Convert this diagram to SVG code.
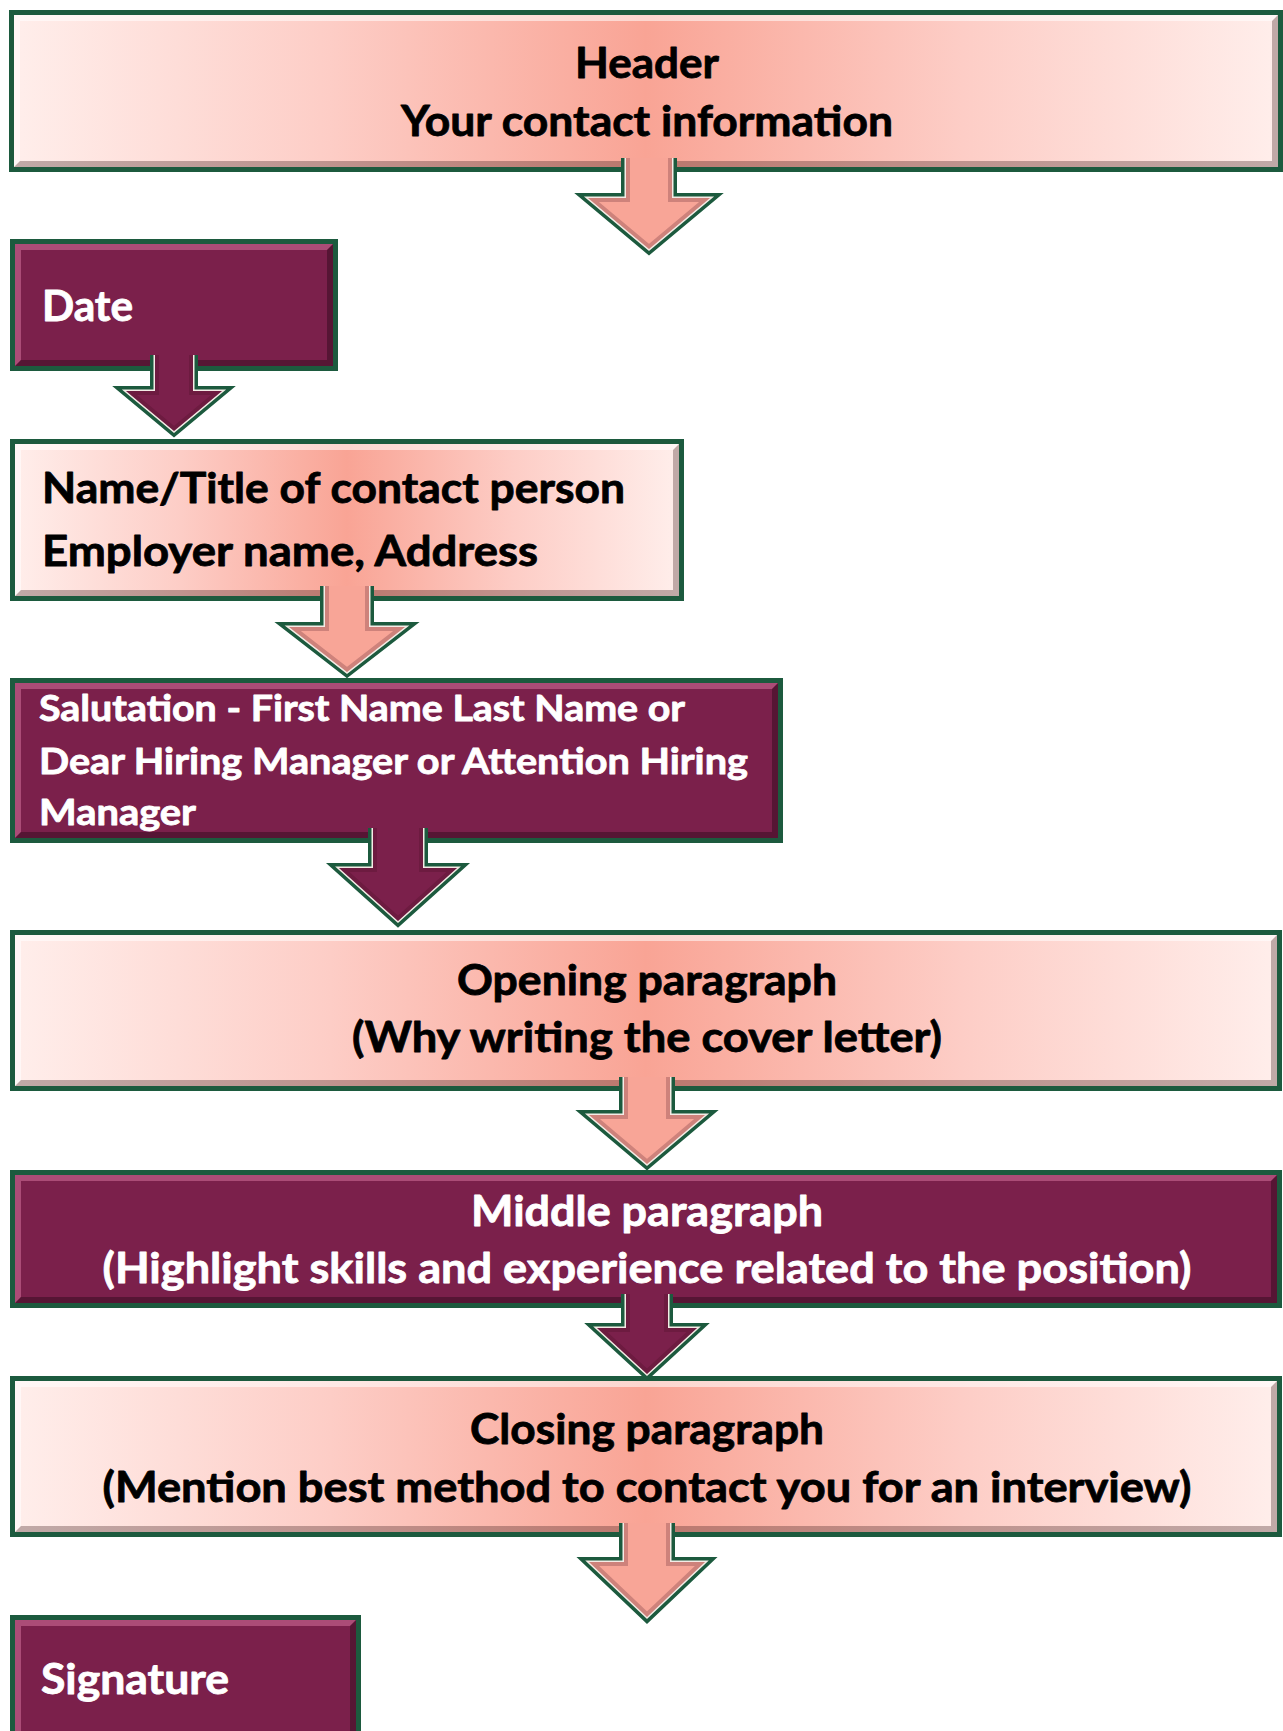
<svg xmlns="http://www.w3.org/2000/svg" xmlns:xlink="http://www.w3.org/1999/xlink" width="1283" height="1731" viewBox="0 0 1283 1731">
<style>
.border{fill:#1c5a3e}
.pinkfill{fill:url(#pinkGrad)}
.maroonfill{fill:#7b204b}
.hl{fill:#ffffff;fill-opacity:0.55}
.hlm{fill:#c0608a;fill-opacity:0.7}
.sh{fill:#3a1a1a;fill-opacity:0.32}
.shm{fill:#2a0818;fill-opacity:0.45}
.t{font-family:Lato,"Liberation Sans",sans-serif;font-weight:bold;stroke-width:0.8;stroke-linejoin:round}
.tb{fill:#000000;stroke:#000000}
.tw{fill:#ffffff;stroke:#ffffff}
.ao{fill:none;stroke:#1c5a3e;stroke-width:10;stroke-linejoin:miter;stroke-miterlimit:10}
.aw{fill:none;stroke:#f4ece6;stroke-width:3;stroke-linejoin:miter;stroke-miterlimit:10}
.afp{fill:#f8a597;stroke:none}
.afm{fill:#7b204b;stroke:none}
.bev{fill:none;stroke:#3a0a1a;stroke-opacity:0.22;stroke-width:8;stroke-linejoin:miter}
</style>
<defs>
<linearGradient id="pinkGrad" x1="0" y1="0" x2="1" y2="0">
<stop offset="0" stop-color="#ffeeeb"/>
<stop offset="0.25" stop-color="#fdcdc6"/>
<stop offset="0.5" stop-color="#f9a495"/>
<stop offset="0.75" stop-color="#fdcdc6"/>
<stop offset="1" stop-color="#ffeeeb"/>
</linearGradient>
<path id="a1" d="M626,158 V198 H588 L649,249 L710,198 H672 V158"/>
<path id="a2" d="M155,355 V391 H126 L174,431 L222,391 H193 V355"/>
<path id="a3" d="M325,586 V627 H289 L347,672 L405,627 H369 V586"/>
<path id="a4" d="M373,828 V868 H339 L398,921 L457,868 H423 V828"/>
<path id="a5" d="M624,1077 V1115 H589 L647,1164 L705,1115 H670 V1077"/>
<path id="a6" d="M626,1294 V1328 H597 L647,1374 L697,1328 H668 V1294"/>
<path id="a7" d="M624,1523 V1562 H589 L647,1617 L705,1562 H670 V1523"/>
<clipPath id="c1"><use xlink:href="#a1"/></clipPath>
<clipPath id="c2"><use xlink:href="#a2"/></clipPath>
<clipPath id="c3"><use xlink:href="#a3"/></clipPath>
<clipPath id="c4"><use xlink:href="#a4"/></clipPath>
<clipPath id="c5"><use xlink:href="#a5"/></clipPath>
<clipPath id="c6"><use xlink:href="#a6"/></clipPath>
<clipPath id="c7"><use xlink:href="#a7"/></clipPath>
</defs>
<rect x="0" y="0" width="1283" height="1731" fill="#ffffff"/>

<g id="header">
<rect class="border" x="9" y="10" width="1274" height="162"/>
<rect class="pinkfill" x="14" y="15" width="1264" height="152"/>
<path class="hl" d="M14,15 H1278 L1272,21 H20 V161 L14,167 Z"/>
<path class="sh" d="M1278,15 V167 H14 L20,161 H1272 V21 Z"/>
<text class="t tb" x="647" y="78" font-size="42" text-anchor="middle" textLength="144" lengthAdjust="spacingAndGlyphs">Header</text>
<text class="t tb" x="647" y="136" font-size="42" text-anchor="middle" textLength="492" lengthAdjust="spacingAndGlyphs">Your contact information</text>
</g>

<g id="date">
<rect class="border" x="10" y="239" width="328" height="132"/>
<rect class="maroonfill" x="15" y="244" width="318" height="122"/>
<path class="hlm" d="M15,244 H333 L327,250 H21 V360 L15,366 Z"/>
<path class="shm" d="M333,244 V366 H15 L21,360 H327 V250 Z"/>
<text class="t tw" x="42" y="321" font-size="42" textLength="91" lengthAdjust="spacingAndGlyphs">Date</text>
</g>

<g id="contact">
<rect class="border" x="10" y="439" width="674" height="162"/>
<rect class="pinkfill" x="15" y="444" width="664" height="152"/>
<path class="hl" d="M15,444 H679 L673,450 H21 V590 L15,596 Z"/>
<path class="sh" d="M679,444 V596 H15 L21,590 H673 V450 Z"/>
<text class="t tb" x="42" y="503" font-size="42" textLength="583" lengthAdjust="spacingAndGlyphs">Name/Title of contact person</text>
<text class="t tb" x="42" y="566" font-size="42" textLength="496" lengthAdjust="spacingAndGlyphs">Employer name, Address</text>
</g>

<g id="salutation">
<rect class="border" x="10" y="678" width="773" height="165"/>
<rect class="maroonfill" x="15" y="683" width="763" height="155"/>
<path class="hlm" d="M15,683 H778 L772,689 H21 V832 L15,838 Z"/>
<path class="shm" d="M778,683 V838 H15 L21,832 H772 V689 Z"/>
<text class="t tw" x="39" y="721" font-size="36" textLength="646" lengthAdjust="spacingAndGlyphs">Salutation - First Name Last Name or</text>
<text class="t tw" x="39" y="774" font-size="36" textLength="709" lengthAdjust="spacingAndGlyphs">Dear Hiring Manager or Attention Hiring</text>
<text class="t tw" x="39" y="825" font-size="36" textLength="157" lengthAdjust="spacingAndGlyphs">Manager</text>
</g>

<g id="opening">
<rect class="border" x="10" y="930" width="1272" height="161"/>
<rect class="pinkfill" x="15" y="935" width="1262" height="151"/>
<path class="hl" d="M15,935 H1277 L1271,941 H21 V1080 L15,1086 Z"/>
<path class="sh" d="M1277,935 V1086 H15 L21,1080 H1271 V941 Z"/>
<text class="t tb" x="647" y="995" font-size="42" text-anchor="middle" textLength="380" lengthAdjust="spacingAndGlyphs">Opening paragraph</text>
<text class="t tb" x="647" y="1052" font-size="42" text-anchor="middle" textLength="590" lengthAdjust="spacingAndGlyphs">(Why writing the cover letter)</text>
</g>

<g id="middle">
<rect class="border" x="10" y="1170" width="1272" height="138"/>
<rect class="maroonfill" x="15" y="1175" width="1262" height="128"/>
<path class="hlm" d="M15,1175 H1277 L1271,1181 H21 V1297 L15,1303 Z"/>
<path class="shm" d="M1277,1175 V1303 H15 L21,1297 H1271 V1181 Z"/>
<text class="t tw" x="647" y="1226" font-size="42" text-anchor="middle" textLength="352" lengthAdjust="spacingAndGlyphs">Middle paragraph</text>
<text class="t tw" x="647" y="1283" font-size="42" text-anchor="middle" textLength="1089" lengthAdjust="spacingAndGlyphs">(Highlight skills and experience related to the position)</text>
</g>

<g id="closing">
<rect class="border" x="10" y="1376" width="1272" height="161"/>
<rect class="pinkfill" x="15" y="1381" width="1262" height="151"/>
<path class="hl" d="M15,1381 H1277 L1271,1387 H21 V1526 L15,1532 Z"/>
<path class="sh" d="M1277,1381 V1532 H15 L21,1526 H1271 V1387 Z"/>
<text class="t tb" x="647" y="1444" font-size="42" text-anchor="middle" textLength="354" lengthAdjust="spacingAndGlyphs">Closing paragraph</text>
<text class="t tb" x="647" y="1502" font-size="42" text-anchor="middle" textLength="1089" lengthAdjust="spacingAndGlyphs">(Mention best method to contact you for an interview)</text>
</g>

<g id="signature">
<rect class="border" x="10" y="1615" width="351" height="140"/>
<rect class="maroonfill" x="15" y="1620" width="341" height="130"/>
<path class="hlm" d="M15,1620 H356 L350,1626 H21 V1744 L15,1750 Z"/>
<path class="shm" d="M356,1620 V1750 H15 L21,1744 H350 V1626 Z"/>
<text class="t tw" x="41" y="1694" font-size="42" textLength="188" lengthAdjust="spacingAndGlyphs">Signature</text>
</g>

<g id="connectors">
<g id="arrow-header-date"><use xlink:href="#a1" class="ao"/><use xlink:href="#a1" class="aw"/><use xlink:href="#a1" class="afp"/><use xlink:href="#a1" class="bev" clip-path="url(#c1)"/></g>
<g id="arrow-date-contact"><use xlink:href="#a2" class="ao"/><use xlink:href="#a2" class="aw"/><use xlink:href="#a2" class="afm"/><use xlink:href="#a2" class="bev" clip-path="url(#c2)"/></g>
<g id="arrow-contact-salutation"><use xlink:href="#a3" class="ao"/><use xlink:href="#a3" class="aw"/><use xlink:href="#a3" class="afp"/><use xlink:href="#a3" class="bev" clip-path="url(#c3)"/></g>
<g id="arrow-salutation-opening"><use xlink:href="#a4" class="ao"/><use xlink:href="#a4" class="aw"/><use xlink:href="#a4" class="afm"/><use xlink:href="#a4" class="bev" clip-path="url(#c4)"/></g>
<g id="arrow-opening-middle"><use xlink:href="#a5" class="ao"/><use xlink:href="#a5" class="aw"/><use xlink:href="#a5" class="afp"/><use xlink:href="#a5" class="bev" clip-path="url(#c5)"/></g>
<g id="arrow-middle-closing"><use xlink:href="#a6" class="ao"/><use xlink:href="#a6" class="aw"/><use xlink:href="#a6" class="afm"/><use xlink:href="#a6" class="bev" clip-path="url(#c6)"/></g>
<g id="arrow-closing-signature"><use xlink:href="#a7" class="ao"/><use xlink:href="#a7" class="aw"/><use xlink:href="#a7" class="afp"/><use xlink:href="#a7" class="bev" clip-path="url(#c7)"/></g>
</g>
</svg>
